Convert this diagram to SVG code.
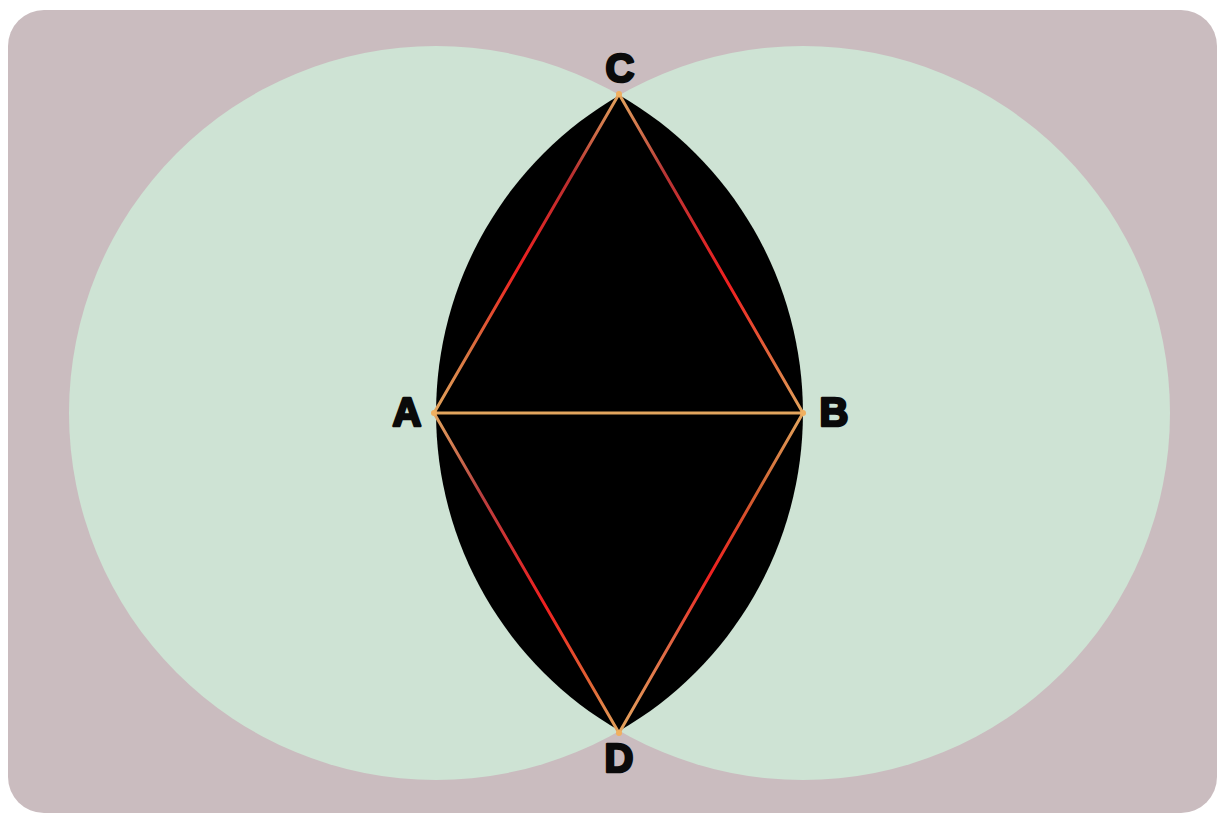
<svg xmlns="http://www.w3.org/2000/svg" width="1219" height="814" viewBox="0 0 1219 814">
<style>
.bg{fill:#cabcbf}
.circ{fill:#cee3d4}
.lens{fill:#000}
.seg{stroke-width:3;fill:none;stroke-linecap:round}
.lbl{font-family:"Liberation Sans",Arial,sans-serif;font-weight:bold;font-size:40px;fill:#0a0a0a;stroke:#0a0a0a;stroke-width:2.6;stroke-linejoin:round;text-anchor:middle}
.pt{fill:#f0b060}
</style>
<defs>
<linearGradient id="gAC" gradientUnits="userSpaceOnUse" x1="434" y1="413" x2="619" y2="94">
<stop offset="0" stop-color="#e3a55e"/><stop offset="0.2" stop-color="#d8703e"/><stop offset="0.45" stop-color="#f02020"/><stop offset="0.75" stop-color="#b83030"/><stop offset="1" stop-color="#e3a55e"/>
</linearGradient>
<linearGradient id="gCB" gradientUnits="userSpaceOnUse" x1="619" y1="94" x2="803" y2="413">
<stop offset="0" stop-color="#e3a55e"/><stop offset="0.25" stop-color="#b83535"/><stop offset="0.6" stop-color="#f02020"/><stop offset="0.85" stop-color="#e07040"/><stop offset="1" stop-color="#e3a55e"/>
</linearGradient>
<linearGradient id="gAD" gradientUnits="userSpaceOnUse" x1="434" y1="413" x2="619" y2="733">
<stop offset="0" stop-color="#e3a55e"/><stop offset="0.25" stop-color="#b84040"/><stop offset="0.6" stop-color="#f02020"/><stop offset="0.85" stop-color="#e06535"/><stop offset="1" stop-color="#e3a55e"/>
</linearGradient>
<linearGradient id="gDB" gradientUnits="userSpaceOnUse" x1="619" y1="733" x2="803" y2="413">
<stop offset="0" stop-color="#e3a55e"/><stop offset="0.3" stop-color="#e06040"/><stop offset="0.5" stop-color="#f02020"/><stop offset="0.75" stop-color="#d06030"/><stop offset="1" stop-color="#e3a55e"/>
</linearGradient>
</defs>
<rect class="bg" x="8" y="10" width="1209" height="803" rx="36"/>
<g id="circles">
<circle class="circ" cx="436" cy="413" r="367"/>
<circle class="circ" cx="803" cy="413" r="367"/>
</g>
<path id="lens" class="lens" d="M619.5 95.2 A367 367 0 0 0 619.5 730.8 A367 367 0 0 0 619.5 95.2 Z"/>
<g id="connectors">
<line class="seg" x1="434" y1="413" x2="803" y2="413" stroke="#e3a55e"/>
<line class="seg" x1="434" y1="413" x2="619" y2="94" stroke="url(#gAC)"/>
<line class="seg" x1="619" y1="94" x2="803" y2="413" stroke="url(#gCB)"/>
<line class="seg" x1="434" y1="413" x2="619" y2="733" stroke="url(#gAD)"/>
<line class="seg" x1="619" y1="733" x2="803" y2="413" stroke="url(#gDB)"/>
</g>
<g id="A"><circle class="pt" cx="434" cy="413" r="3"/><text class="lbl" x="407" y="426">A</text></g>
<g id="B"><circle class="pt" cx="803" cy="413" r="3"/><text class="lbl" x="834" y="426">B</text></g>
<g id="C"><circle class="pt" cx="619" cy="94" r="3"/><text class="lbl" x="620" y="82">C</text></g>
<g id="D"><circle class="pt" cx="619" cy="733" r="3"/><text class="lbl" x="619" y="772">D</text></g>
</svg>
